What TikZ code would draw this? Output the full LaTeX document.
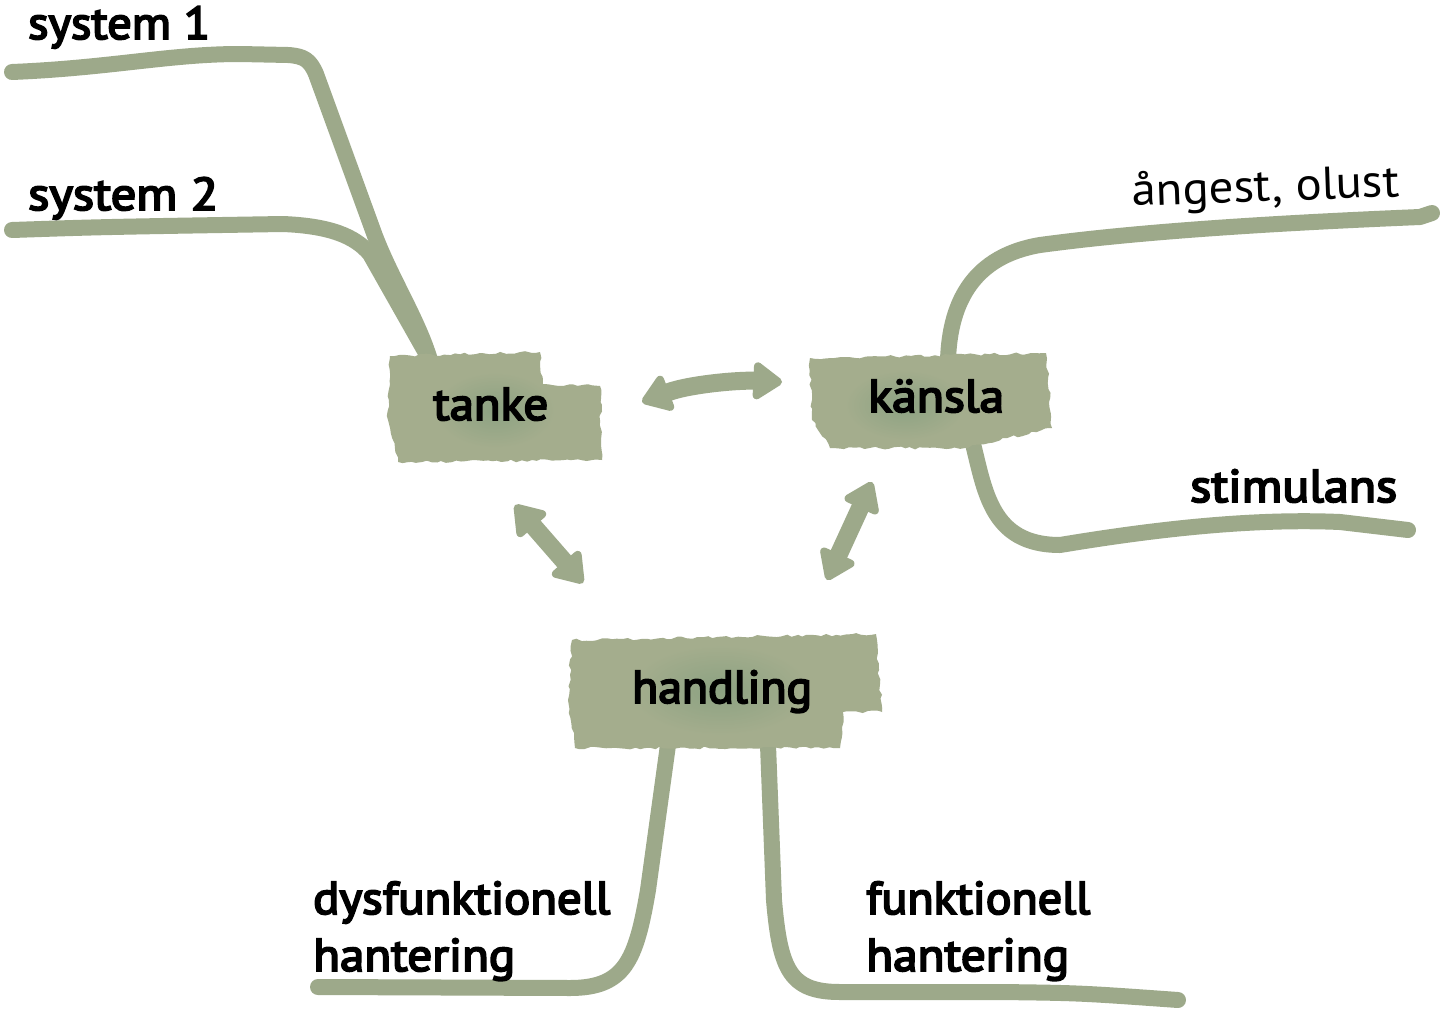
\documentclass[tikz,border=0pt]{standalone}
\usepackage{fontspec}
\setmainfont{PT Sans}
\newfontfamily\medfont[FakeBold=4]{PT Sans}
\usetikzlibrary{arrows.meta,decorations.pathmorphing}
\definecolor{branch}{RGB}{157,169,138}
\definecolor{blobbase}{RGB}{164,173,141}
\definecolor{blobspot}{RGB}{140,162,130}
\newcommand\fitw[2]{\resizebox{#1}{\height}{#2}}
\begin{document}
\begin{tikzpicture}[x=1pt,y=-1pt,
  branch/.style={draw=branch, line width=16pt, line cap=round, line join=round},
  arr/.style={draw=branch, line width=18pt, line cap=round,
    {Triangle[round,length=32pt,width=42pt,line width=8pt]}-{Triangle[round,length=32pt,width=42pt,line width=8pt]}},
  blob/.style={fill=blobbase, decorate, decoration={random steps, segment length=5pt, amplitude=1.4pt}},
  lbl/.style={anchor=base west, inner sep=0pt, text=black, font=\fontsize{46}{50}\medfont},
  lbllight/.style={anchor=base west, inner sep=0pt, text=black, font=\fontsize{46}{50}\selectfont}]
\useasboundingbox (0,0) rectangle (1443,1009);
\fill[white] (0,0) rectangle (1443,1009);

% free ends of branches
\coordinate (s1end) at (12,72);
\coordinate (s2end) at (12,230);
\coordinate (angend) at (1432,213);
\coordinate (stiend) at (1408,530);
\coordinate (dysend) at (318,987);
\coordinate (funend) at (1178,1000);
% attachment points on the boxes
\coordinate (tanketop) at (430,360);
\coordinate (kanslatop) at (948,360);
\coordinate (kanslabot) at (972,440);
\coordinate (handbotL) at (668,745);
\coordinate (handbotR) at (768,745);

% branches
\draw[branch] (s1end) .. controls (110,68) and (170,54) .. (240,54) -- (288,55)
  .. controls (304,56) and (310,60) .. (316,74) -- (375,236)
  .. controls (392,280) and (418,320) .. (tanketop);
\draw[branch] (s2end) .. controls (100,227) .. (283,224)
  .. controls (330,226) and (355,236) .. (370,254) -- (tanketop);
\draw[branch] (kanslatop) .. controls (950,300) and (975,256) .. (1040,245)
  .. controls (1150,230) and (1300,222) .. (1420,217) -- (angend);
\draw[branch] (kanslabot) .. controls (985,490) and (990,545) .. (1060,545)
  .. controls (1150,530) and (1250,518) .. (1340,522) -- (stiend);
\draw[branch] (handbotL) -- (648,890) .. controls (636,960) and (625,988) .. (570,988) -- (dysend);
\draw[branch] (handbotR) -- (774,900) .. controls (780,970) and (790,992) .. (840,992)
  -- (1000,992) .. controls (1080,993) .. (funend);

% boxes
\path[blob] (390,356) -- (540,352) -- (543,384) -- (600,386) -- (602,460) -- (398,462) -- (388,420) -- cycle;
\shade[inner color=blobspot, outer color=blobbase] (495,410) ellipse (60 and 38);
\path[blob] (810,358) -- (1046,353) -- (1052,428) -- (965,448) -- (830,448) -- (812,420) -- cycle;
\shade[inner color=blobspot, outer color=blobbase] (905,405) ellipse (60 and 35);
\path[blob] (572,640) -- (876,634) -- (882,712) -- (843,712) -- (840,748) -- (575,748) -- (568,700) -- cycle;
\shade[inner color=blobspot, outer color=blobbase] (720,690) ellipse (90 and 45);

% arrows
\coordinate (a1) at (642,402);
\coordinate (a2) at (782,382);
\coordinate (b1) at (515,505);
\coordinate (b2) at (583,583);
\coordinate (c1) at (872,482);
\coordinate (c2) at (827,580);
\draw[arr] (a1) .. controls (690,384) and (740,380) .. (a2);
\draw[arr] (b1) -- (b2);
\draw[arr] (c1) -- (c2);

% labels
\node[lbl] (s1) at (28,39) {\fitw{182pt}{system 1}};
\node[lbl] (s2) at (28,210) {\fitw{190pt}{system 2}};
\node[lbl] (tanke) at (433,420) {\fitw{115pt}{tanke}};
\node[lbl] (kansla) at (868,412) {\fitw{136pt}{känsla}};
\node[lbllight, rotate=2] (angest) at (1132,206) {\fitw{268pt}{ångest, olust}};
\node[lbl] (stim) at (1190,502) {\fitw{207pt}{stimulans}};
\node[lbl] (handling) at (632,703) {\fitw{180pt}{handling}};
\node[lbl] (dys) at (313,914) {\fitw{297pt}{dysfunktionell}};
\node[lbl] (dysh) at (313,971) {\fitw{202pt}{hantering}};
\node[lbl] (fun) at (866,914) {\fitw{224pt}{funktionell}};
\node[lbl] (funh) at (866,971) {\fitw{203pt}{hantering}};
\end{tikzpicture}
\end{document}
